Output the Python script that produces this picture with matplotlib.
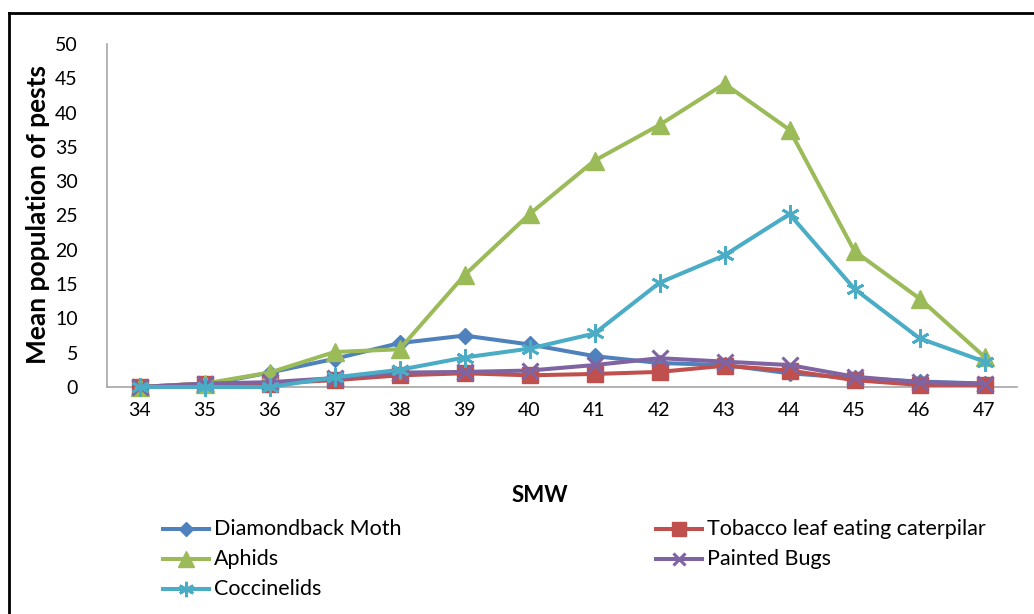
import matplotlib
matplotlib.use("Agg")
import matplotlib.pyplot as plt
from matplotlib.lines import Line2D
from matplotlib.markers import MarkerStyle

plt.rcParams['font.family'] = ['Lato', 'DejaVu Sans']

# Standard meteorological weeks
smw = [34, 35, 36, 37, 38, 39, 40, 41, 42, 43, 44, 45, 46, 47]

diamondback_moth = [0.0, 0.3, 2.1, 4.1, 6.4, 7.5, 6.2, 4.5, 3.5, 3.2, 2.0, 1.3, 0.8, 0.5]
tobacco_caterpillar = [0.0, 0.5, 0.5, 1.0, 1.7, 2.0, 1.7, 1.9, 2.2, 3.1, 2.4, 1.0, 0.3, 0.3]
aphids = [0.0, 0.5, 2.1, 5.1, 5.5, 16.3, 25.2, 33.0, 38.2, 44.2, 37.5, 19.8, 12.9, 4.4]
painted_bugs = [0.0, 0.5, 0.7, 1.3, 2.1, 2.2, 2.4, 3.2, 4.2, 3.7, 3.2, 1.5, 0.7, 0.5]
coccinelids = [0.0, 0.0, 0.0, 1.4, 2.5, 4.3, 5.6, 7.8, 15.2, 19.2, 25.2, 14.3, 7.1, 3.7]

series_names = ["Diamondback Moth", "Tobacco leaf eating caterpilar", "Aphids",
                "Painted Bugs", "Coccinelids"]

W, H = 1034, 614
fig = plt.figure(figsize=(W / 100, H / 100), dpi=100)


def fx(px):
    return px / W


def fy(py):
    return 1 - py / H


asterisk = MarkerStyle((6, 2, 0))

styles = {
    "Diamondback Moth": dict(color="#4F81BD", marker="D", ms=8.5, mew=1),
    "Tobacco leaf eating caterpilar": dict(color="#C0504D", marker="s", ms=12, mew=1),
    "Aphids": dict(color="#9BBB59", marker="^", ms=13, mew=1),
    "Painted Bugs": dict(color="#8064A2", marker="x", ms=11, mew=2.2),
    "Coccinelids": dict(color="#4BACC6", marker=asterisk, ms=13, mew=2.0),
}
values = {
    "Diamondback Moth": diamondback_moth,
    "Tobacco leaf eating caterpilar": tobacco_caterpillar,
    "Aphids": aphids,
    "Painted Bugs": painted_bugs,
    "Coccinelids": coccinelids,
}

ax = fig.add_axes([fx(107), fy(387), fx(1017) - fx(107), fy(44) - fy(387)])
for name in series_names:
    st = styles[name]
    ax.plot(smw, values[name], color=st["color"], lw=2.9, marker=st["marker"],
            markersize=st["ms"], markeredgewidth=st["mew"],
            markeredgecolor=st["color"], markerfacecolor=st["color"],
            solid_joinstyle="round", clip_on=False, zorder=3)

ax.set_xlim(smw[0] - 0.5, smw[-1] + 0.5)
ax.set_ylim(0, 50)
ax.set_xticks(smw)
ax.set_xticklabels([str(s) for s in smw])
ax.set_yticks(range(0, 51, 5))
ax.tick_params(axis="both", length=0, labelsize=14, colors="#000000")
ax.tick_params(axis="y", pad=21)
ax.tick_params(axis="x", pad=11)
for side in ("top", "right"):
    ax.spines[side].set_visible(False)
for side in ("left", "bottom"):
    ax.spines[side].set_color("#A6A6A6")
    ax.spines[side].set_linewidth(1.2)

fig.text(fx(38), fy(215), "Mean population of pests", rotation=90, ha="center",
         va="center", fontsize=19, fontweight="bold")
fig.text(fx(540), fy(495), "SMW", ha="center", va="center", fontsize=16,
         fontweight="bold")

# Legend drawn in figure coordinates, two columns
legend_rows = [
    ("Diamondback Moth", 163, 529),
    ("Aphids", 163, 559),
    ("Coccinelids", 163, 589),
    ("Tobacco leaf eating caterpilar", 656, 529),
    ("Painted Bugs", 656, 559),
]
for name, x0, y0 in legend_rows:
    st = styles[name]
    fig.add_artist(Line2D([fx(x0), fx(x0 + 46)], [fy(y0), fy(y0)],
                          transform=fig.transFigure, color=st["color"], lw=2.9))
    fig.add_artist(Line2D([fx(x0 + 23)], [fy(y0)], transform=fig.transFigure,
                          marker=st["marker"], markersize=st["ms"] * 0.85,
                          markeredgewidth=st["mew"], color=st["color"],
                          markerfacecolor=st["color"], markeredgecolor=st["color"],
                          lw=0))
    fig.text(fx(x0 + 51), fy(y0), name, ha="left", va="center", fontsize=15.5)

# Outer chart frame
fig.add_artist(Line2D([fx(9), fx(9)], [fy(13), 0], transform=fig.transFigure,
                      color="black", lw=2))
fig.add_artist(Line2D([fx(9), 1], [fy(13), fy(13)], transform=fig.transFigure,
                      color="black", lw=2))

fig.savefig("out.png", dpi=100)
